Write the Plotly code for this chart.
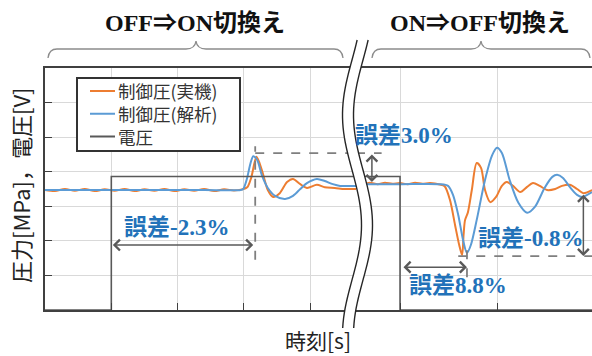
import numpy as np
import plotly.graph_objects as go

W, H = 592, 356

# ---- data: OFF->ON switching (left panel, time units) ----
t_on = [0.00, 0.15, 0.30, 0.45, 0.60, 0.75, 0.90, 1.05, 1.20, 1.35, 1.50, 1.65, 1.80,
        1.95, 2.10, 2.25, 2.40, 2.55, 2.70, 2.85, 2.97, 3.05, 3.11, 3.19, 3.27, 3.36,
        3.44, 3.54, 3.65, 3.74, 3.85, 3.95, 4.10, 4.22, 4.37, 4.52, 4.69]
p_meas_on = [3.47, 3.44, 3.50, 3.45, 3.50, 3.44, 3.49, 3.45, 3.50, 3.44, 3.49, 3.45, 3.50,
             3.44, 3.49, 3.45, 3.50, 3.44, 3.49, 3.46, 3.49, 3.55, 3.83, 4.43, 4.05, 3.47,
             3.27, 3.38, 3.70, 3.79, 3.64, 3.53, 3.62, 3.55, 3.53, 3.50, 3.50]

t_on_sim = [0.00, 0.80, 1.60, 2.40, 2.95, 2.99, 3.04, 3.10, 3.14, 3.20, 3.27, 3.36, 3.47,
            3.62, 3.74, 3.85, 3.95, 4.10, 4.22, 4.34, 4.45, 4.57, 4.69]
p_sim_on = [3.47, 3.47, 3.47, 3.47, 3.47, 3.50, 3.76, 4.25, 4.45, 4.34, 3.90, 3.53, 3.30,
            3.21, 3.30, 3.50, 3.67, 3.79, 3.73, 3.64, 3.59, 3.59, 3.59]

t_v_on = [0.00, 1.00, 1.00, 4.69]
v_on = [0.00, 0.00, 3.86, 3.86]

# ---- data: ON->OFF switching (right panel, time units) ----
t_off = [9.546, 9.62, 9.69, 9.77, 9.845, 9.92, 10.00, 10.08, 10.155, 10.23, 10.31, 10.41,
         10.46, 10.515, 10.567, 10.61, 10.64, 10.655, 10.67, 10.70, 10.74, 10.79, 10.835,
         10.876, 10.93, 10.99, 11.05, 11.10, 11.165, 11.24, 11.31, 11.37, 11.44, 11.515,
         11.60, 11.67, 11.75, 11.825, 11.89, 11.98]
p_meas_off = [3.67, 3.64, 3.68, 3.64, 3.68, 3.65, 3.67, 3.64, 3.68, 3.65, 3.67, 3.63,
              3.58, 3.18, 2.46, 1.88, 1.59, 2.17, 2.60, 2.83, 3.47, 4.25, 4.11,
              3.47, 3.12, 3.27, 3.59, 3.70, 3.59, 3.41, 3.56, 3.67, 3.59, 3.47,
              3.50, 3.59, 3.62, 3.50, 3.38, 3.47]

t_off_sim = [9.546, 10.00, 10.41, 10.495, 10.546, 10.60, 10.65, 10.69, 10.73, 10.79, 10.876,
             10.95, 11.00, 11.05, 11.13, 11.22, 11.31, 11.39, 11.49, 11.57, 11.62, 11.68,
             11.75, 11.825, 11.88, 11.93, 11.98]
p_sim_off = [3.64, 3.64, 3.64, 3.59, 3.33, 2.75, 2.02, 1.65, 1.88, 2.60, 3.76,
             4.48, 4.69, 4.54, 3.76, 3.10, 2.81, 2.98, 3.53, 3.85, 3.91, 3.82,
             3.56, 3.33, 3.27, 3.33, 3.41]

t_v_off = [9.546, 10.00, 10.00, 11.98]
v_off = [3.86, 3.86, 0.00, 0.00]

series_names = ["制御圧(実機)", "制御圧(解析)", "電圧"]
err_labels = ["誤差-2.3%", "誤差3.0%", "誤差8.8%", "誤差-0.8%"]

ORANGE = "#ED7D31"
BLUE = "#5B9BD5"
VOLT = "#595959"
ERR = "#2272B9"
CJK = "Noto Sans CJK JP"
SERIF_CJK = "Liberation Serif, Noto Sans CJK JP"
colors = [ORANGE, BLUE, VOLT]

fig = go.Figure()

panels = [("x", "y", t_on, p_meas_on, t_on_sim, p_sim_on, t_v_on, v_on),
          ("x2", "y2", t_off, p_meas_off, t_off_sim, p_sim_off, t_v_off, v_off)]
for xa, ya, tm, pm, ts, ps, tv, vv in panels:
    fig.add_trace(go.Scatter(x=tm, y=pm, mode="lines", name=series_names[0],
                             line=dict(color=ORANGE, width=2, shape="spline", smoothing=0.8),
                             showlegend=False, xaxis=xa, yaxis=ya))
    fig.add_trace(go.Scatter(x=ts, y=ps, mode="lines", name=series_names[1],
                             line=dict(color=BLUE, width=2, shape="spline", smoothing=0.8),
                             showlegend=False, xaxis=xa, yaxis=ya))
    fig.add_trace(go.Scatter(x=tv, y=vv, mode="lines", name=series_names[2],
                             line=dict(color=VOLT, width=1.6),
                             showlegend=False, xaxis=xa, yaxis=ya))


def px(x):
    return x / W


def py(y):
    return 1 - y / H


X_L0, X_BRK, Y_TOP, Y_BOT = 45, 356, 68, 310

axis_common = dict(showgrid=True, gridcolor="#d9d9d9", gridwidth=1, zeroline=False,
                   showticklabels=False, ticklen=7, tickcolor="#404040",
                   tickwidth=1.3, dtick=1)

fig.update_layout(
    width=W, height=H, margin=dict(l=0, r=0, t=0, b=0),
    paper_bgcolor="white", plot_bgcolor="white", showlegend=False,
    xaxis=dict(domain=[px(X_L0), px(X_BRK)], range=[0, 4.69], tick0=0, ticks="inside",
               showline=True, linecolor="#404040", linewidth=1.6, mirror=True,
               anchor="y", **axis_common),
    xaxis2=dict(domain=[px(X_BRK), 1.0], range=[9.546, 11.979], tick0=10, ticks="inside",
                showline=True, linecolor="#404040", linewidth=1.6, mirror=True,
                anchor="y2", **axis_common),
    yaxis=dict(domain=[py(Y_BOT), py(Y_TOP)], range=[0, 7], tick0=0, ticks="inside",
               showline=True, linecolor="#404040", linewidth=1.6, anchor="x",
               **axis_common),
    yaxis2=dict(domain=[py(Y_BOT), py(Y_TOP)], range=[0, 7], tick0=0, ticks="",
                showline=False, anchor="x2", **axis_common),
)

shapes = []
DASH = dict(color="#7f7f7f", width=1.8, dash="dash")

# dashed guide lines
shapes.append(dict(type="line", xref="x", yref="y", x0=3.17, x1=3.17, y0=1.45, y1=4.74, line=DASH))
shapes.append(dict(type="line", xref="x", yref="y", x0=3.17, x1=4.69, y0=4.54, y1=4.54, line=DASH))
shapes.append(dict(type="line", xref="x2", yref="y2", x0=9.546, x1=9.81, y0=4.54, y1=4.54, line=DASH))
shapes.append(dict(type="line", xref="x2", yref="y2", x0=10.60, x1=11.98, y0=1.56, y1=1.56, line=DASH))
shapes.append(dict(type="line", xref="x2", yref="y2", x0=10.69, x1=10.69, y0=0.95, y1=1.73, line=DASH))


# braces above the panels
def brace(x0, xm, x1, ytop=41, ybar=49, yend=58):
    return (f"M{px(x0)},{py(yend)} Q{px(x0+1)},{py(ybar)} {px(x0+9)},{py(ybar)} "
            f"L{px(xm-10)},{py(ybar)} Q{px(xm-1)},{py(ybar)} {px(xm)},{py(ytop)} "
            f"Q{px(xm+1)},{py(ybar)} {px(xm+10)},{py(ybar)} "
            f"L{px(x1-9)},{py(ybar)} Q{px(x1-1)},{py(ybar)} {px(x1)},{py(yend)}")


for b in (brace(48, 196, 343), brace(372, 481, 590)):
    shapes.append(dict(type="path", xref="paper", yref="paper", path=b,
                       line=dict(color="#8c8c8c", width=1.3)))

# wavy axis break
ys = np.linspace(40, 328, 60)
cx = 357.5 - 9.5 * np.cos(2 * np.pi * (ys - 115) / 220)
half = 5.5
left = [(c - half, y) for c, y in zip(cx, ys)]
right = [(c + half, y) for c, y in zip(cx, ys)]
band = "M" + " L".join(f"{px(x)},{py(y)}" for x, y in left + right[::-1]) + " Z"
shapes.append(dict(type="path", xref="paper", yref="paper", path=band,
                   fillcolor="white", line=dict(width=0), layer="above"))
for side in (left, right):
    p = "M" + " L".join(f"{px(x)},{py(y)}" for x, y in side)
    shapes.append(dict(type="path", xref="paper", yref="paper", path=p,
                       line=dict(color="#262626", width=1.4), layer="above"))

# legend box with line samples
LEG_FS = 17.5
LX0, LY0, LX1, LY1 = 77, 78, 240, 151
row_h = LEG_FS * 1.3
row_y = [113.75 - row_h, 113.75, 113.75 + row_h]
shapes.append(dict(type="rect", xref="paper", yref="paper", x0=px(LX0), x1=px(LX1),
                   y0=py(LY1), y1=py(LY0), fillcolor="white",
                   line=dict(color="#333333", width=2), layer="above"))
for c, ry in zip(colors, row_y):
    shapes.append(dict(type="line", xref="paper", yref="paper", x0=px(90), x1=px(115),
                       y0=py(ry), y1=py(ry), line=dict(color=c, width=2), layer="above"))

fig.update_layout(shapes=shapes)

ann = []


# double-headed arrows
def dbl_arrow(xref, yref, x0, y0, x1, y1):
    return dict(xref=xref, yref=yref, axref=xref, ayref=yref, x=x1, y=y1, ax=x0, ay=y0,
                text="", showarrow=True, arrowhead=4, startarrowhead=4,
                arrowside="end+start", arrowsize=1.4, startarrowsize=1.4,
                arrowwidth=1.5, arrowcolor="#595959")


ann.append(dbl_arrow("x", "y", 1.0, 1.88, 3.14, 1.88))
ann.append(dbl_arrow("x2", "y2", 9.71, 4.54, 9.71, 3.70))
ann.append(dbl_arrow("x2", "y2", 10.02, 1.24, 10.69, 1.24))
ann.append(dbl_arrow("x2", "y2", 11.89, 3.38, 11.89, 1.56))

lab_font = dict(family=SERIF_CJK, size=23, color=ERR)
for (xr, yr, x, y), t in zip([("x", "y", 1.99, 2.40), ("x2", "y2", 10.04, 5.06),
                              ("x2", "y2", 10.60, 0.72), ("x2", "y2", 11.35, 2.08)],
                             err_labels):
    ann.append(dict(xref=xr, yref=yr, x=x, y=y, text=f"<b>{t}</b>", showarrow=False,
                    font=lab_font, xanchor="center", yanchor="middle"))

# legend texts, one block of three lines
ann.append(dict(xref="paper", yref="paper", x=px(116), y=py(113.75),
                text="<br>".join(series_names), align="left",
                showarrow=False, xanchor="left", yanchor="middle",
                font=dict(family=CJK, size=LEG_FS, color="#333333")))

title_font = dict(family=SERIF_CJK, size=24, color="#111111")
ann.append(dict(xref="paper", yref="paper", x=px(195), y=py(23), text="<b>OFF⇒ON切換え</b>",
                showarrow=False, font=title_font, xanchor="center", yanchor="middle"))
ann.append(dict(xref="paper", yref="paper", x=px(480), y=py(23), text="<b>ON⇒OFF切換え</b>",
                showarrow=False, font=title_font, xanchor="center", yanchor="middle"))

ann.append(dict(xref="paper", yref="paper", x=px(20), y=py(185), text="圧力[MPa]，電圧[V]",
                textangle=-90, showarrow=False, xanchor="center", yanchor="middle",
                font=dict(family=CJK, size=22, color="#222222")))
ann.append(dict(xref="paper", yref="paper", x=px(318), y=py(340), text="時刻[s]",
                showarrow=False, xanchor="center", yanchor="middle",
                font=dict(family=CJK, size=21, color="#222222")))

fig.update_layout(annotations=ann)

fig.write_html("out.html")
